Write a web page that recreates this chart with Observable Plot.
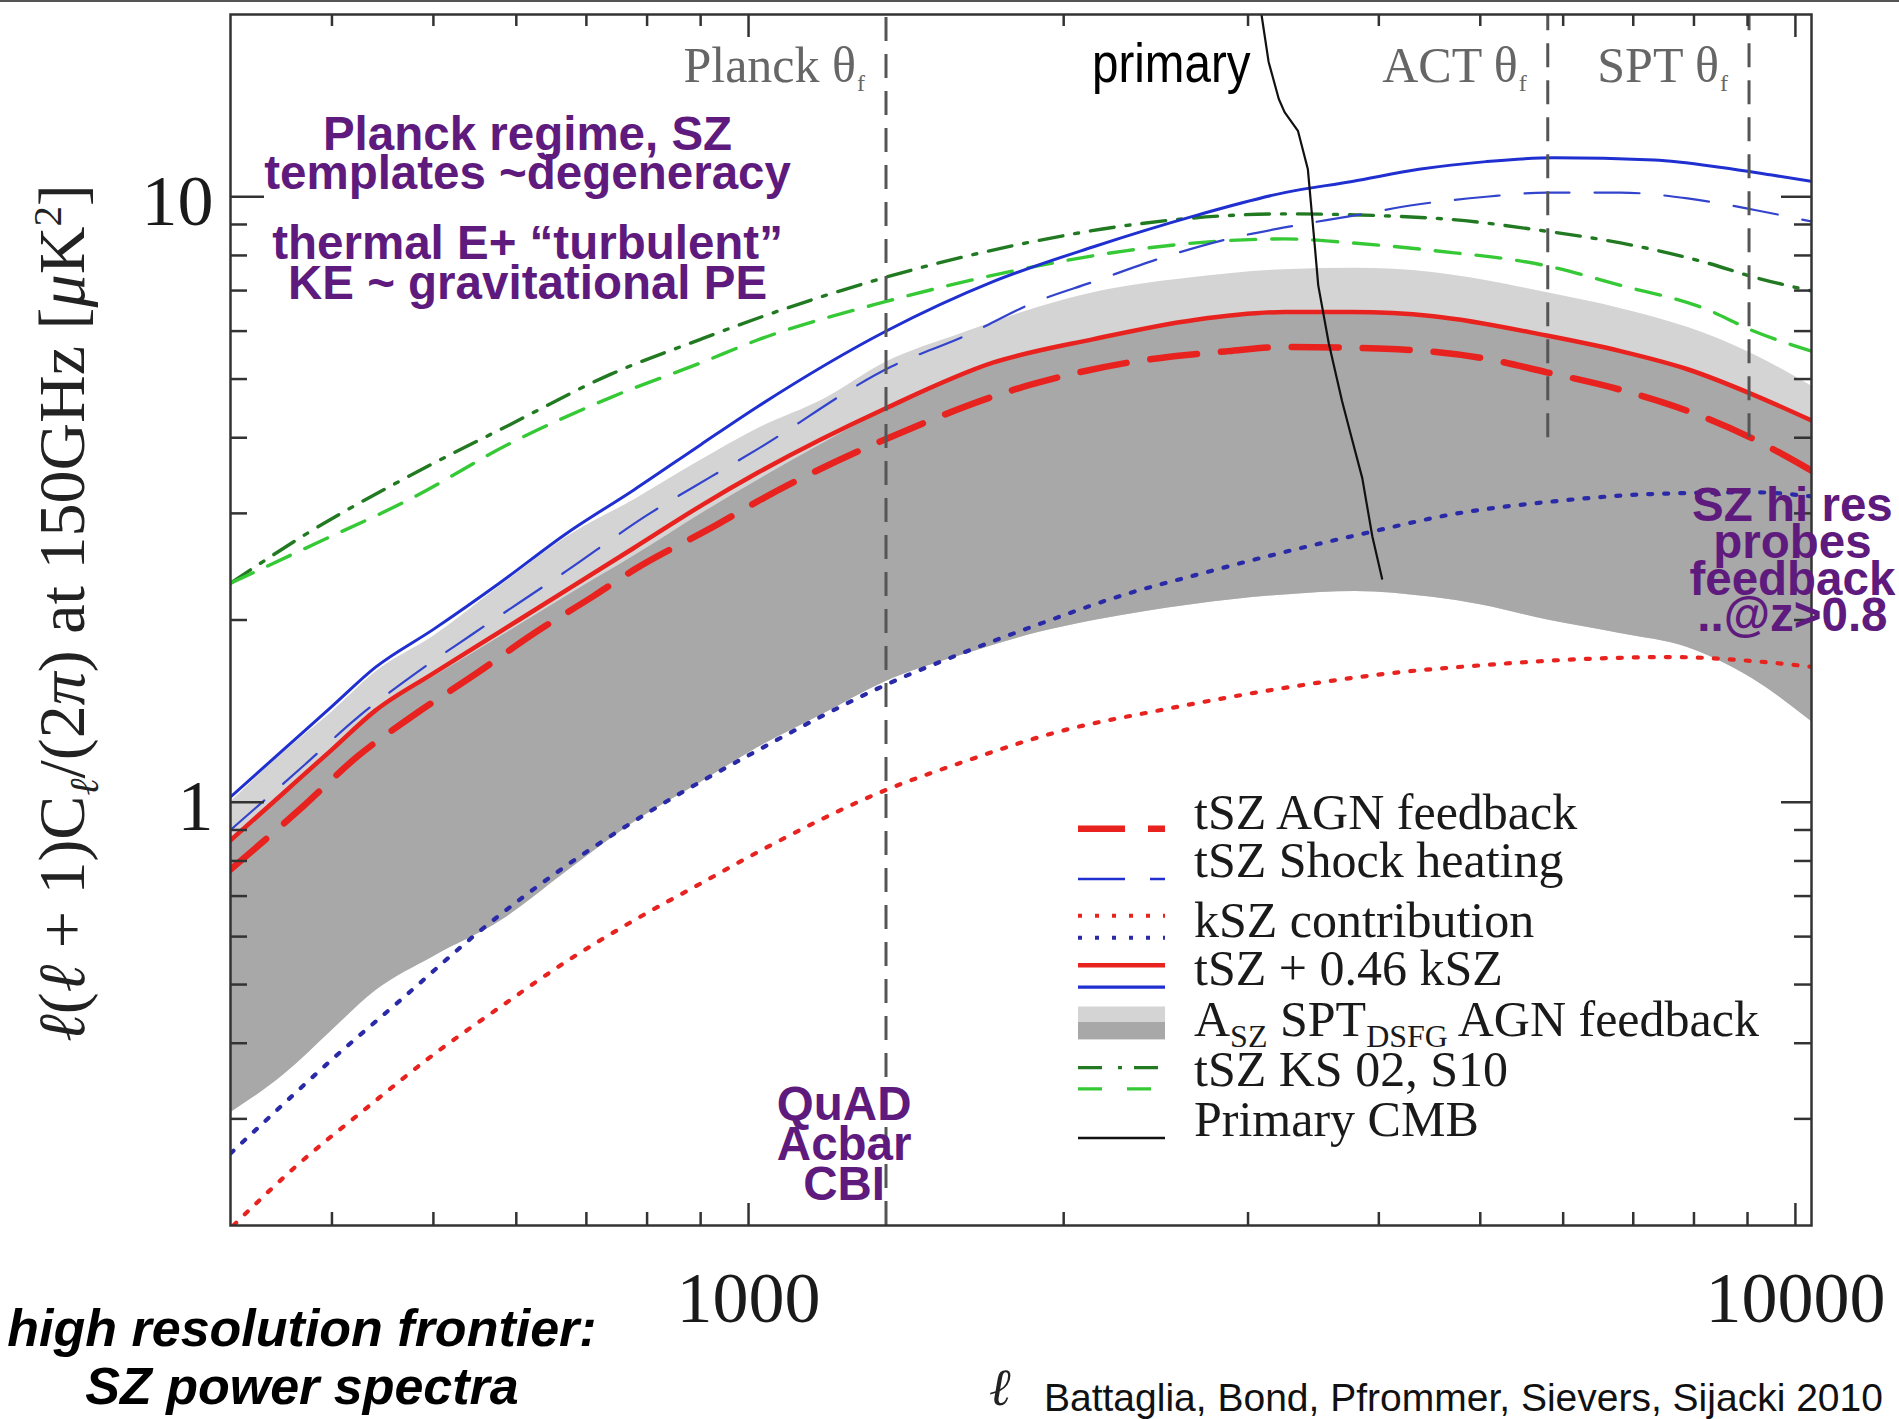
<!DOCTYPE html>
<html><head><meta charset="utf-8">
<script src="https://cdn.jsdelivr.net/npm/d3@7"></script>
<script src="https://cdn.jsdelivr.net/npm/@observablehq/plot@0.6"></script>
<style>
html,body{margin:0;padding:0;background:#fff;}
body{width:1899px;height:1419px;position:relative;overflow:hidden;}
#topline{position:absolute;left:0;top:0;width:1899px;height:2px;background:#555;}
#chart{position:absolute;left:0;top:0;}
.abs{position:absolute;white-space:nowrap;}
sub,sup{line-height:0;font-size:0.62em;}
</style></head><body>
<div id="chart"></div>
<div id="topline"></div>
<div id="overlay"></div>
<script>
// ---------- data (ell, D_ell in muK^2) ----------
const ellTicksMajor = [1000, 10000];
const ellTicksMinor = [400,500,600,700,800,900,2000,3000,4000,5000,6000,7000,8000,9000];
const yTicksMajor = [1, 10];
const yTicksMinor = [0.3,0.4,0.5,0.6,0.7,0.8,0.9,2,3,4,5,6,7,8,9];

const bandEll      = [320,360,400,440,500,580,670,780,900,1020,1180,1350,1600,1900,2150,2650,3250,3800,4500,5000,5800,6800,7900,9100,10360];
const bandLightTop = [1.0,1.21,1.41,1.64,1.88,2.28,2.74,3.17,3.67,4.14,4.63,5.32,5.95,6.58,6.96,7.35,7.58,7.62,7.50,7.30,6.94,6.54,6.08,5.50,4.87];
const bandDarkTop  = [0.86,1.03,1.21,1.41,1.61,1.88,2.19,2.56,2.99,3.40,3.92,4.45,5.05,5.55,5.82,6.24,6.42,6.42,6.32,6.15,5.88,5.53,5.15,4.68,4.25];
const bandBottom   = [0.307,0.355,0.42,0.488,0.556,0.637,0.768,0.93,1.078,1.23,1.40,1.58,1.75,1.91,2.0,2.12,2.2,2.23,2.18,2.12,2.0,1.9,1.8,1.6,1.36];

const shockTotal = [[320,1.02],[360,1.224],[400,1.44],[440,1.67],[500,1.93],[578,2.30],[670,2.78],[777,3.28],[901,3.90],[1020,4.50],[1351,5.99],[1712,7.24],[2136,8.27],[2667,9.30],[3251,10.16],[3772,10.6],[4369,11.1],[5065,11.43],[5872,11.6],[7328,11.5],[8500,11.18],[9495,10.86],[10360,10.6]];
const shockTsz = [[320,0.90],[376,1.15],[423,1.38],[480,1.63],[546,1.90],[670,2.41],[800,2.98],[921,3.45],[1020,3.83],[1371,5.25],[1613,5.90],[1870,6.68],[2136,7.24],[2477,7.92],[2872,8.52],[3251,8.90],[3772,9.30],[4369,9.72],[5065,10.0],[5786,10.16],[6807,10.16],[7888,9.94],[9145,9.51],[10360,9.1]];
const agnTotal = [[320,0.865],[360,1.038],[400,1.222],[440,1.417],[499,1.63],[578,1.91],[670,2.24],[777,2.63],[901,3.09],[1020,3.50],[1351,4.47],[1712,5.32],[2136,5.82],[2667,6.26],[3251,6.45],[3772,6.45],[4510,6.35],[5786,5.90],[6807,5.56],[7888,5.19],[9145,4.70],[10360,4.27]];
const agnTsz = [[320,0.774],[376,0.987],[423,1.19],[481,1.40],[549,1.63],[625,1.905],[711,2.19],[777,2.42],[935,2.88],[1020,3.14],[1371,4.02],[1842,4.87],[2300,5.32],[2872,5.56],[3251,5.65],[4058,5.61],[5065,5.40],[5786,5.13],[6807,4.80],[7888,4.43],[9145,3.97],[10360,3.53]];
const ks02 = [[320,2.30],[380,2.79],[470,3.43],[591,4.20],[738,5.09],[901,5.82],[1020,6.3],[1351,7.36],[1842,8.39],[2300,8.97],[3251,9.37],[4058,9.30],[4703,9.17],[5786,8.77],[6807,8.39],[8185,7.80],[9145,7.36],[10360,6.99]];
const s10 = [[320,2.30],[385,2.67],[477,3.18],[591,3.91],[738,4.66],[901,5.32],[1020,5.8],[1351,6.71],[1842,7.62],[2300,8.15],[3251,8.52],[3772,8.39],[4510,8.15],[5786,7.69],[6807,7.14],[8185,6.54],[9145,5.99],[10360,5.56]];
const shockKsz = [[320,0.263],[345,0.297],[400,0.376],[463,0.468],[557,0.618],[670,0.786],[806,0.967],[1020,1.218],[1182,1.395],[1351,1.562],[1590,1.756],[1912,1.98],[2300,2.21],[2667,2.37],[3251,2.59],[3910,2.79],[4703,2.99],[5872,3.14],[7328,3.23],[9145,3.25],[10360,3.20]];
const agnKsz = [[322,0.2],[371,0.252],[430,0.311],[500,0.383],[578,0.458],[670,0.546],[777,0.638],[901,0.735],[1020,0.827],[1351,1.047],[1590,1.16],[1984,1.31],[2477,1.42],[3251,1.545],[4058,1.63],[5065,1.686],[6322,1.725],[7606,1.737],[9145,1.71],[10360,1.674]];
const primaryCMB = [[3090,20],[3139,16.7],[3210,14.5],[3251,13.8],[3348,12.85],[3422,11.1],[3475,8.27],[3501,7.14],[3583,5.73],[3689,4.6],[3772,3.97],[3857,3.43],[3943,2.75],[4029,2.34]];

const detectorLines = [{name:"Planck θ", ell:1353, bottom:0.2},{name:"ACT θ", ell:5800, bottom:4.0},{name:"SPT θ", ell:9030, bottom:4.0}];
const detectorLabelValue = 15.45;
const primaryLabel = [{text:"primary", ell:3017, value:15.45}];
const annotations = [
  {text:"Planck regime, SZ\ntemplates ~degeneracy", ell:615, value:10.3, lh:0.815},
  {text:"thermal E+ \u201cturbulent\u201d\nKE ~ gravitational PE", ell:615, value:6.79, lh:0.836},
  {text:"SZ hi res\nprobes\nfeedback\n..@z>0.8", ell:9934, value:1.915, lh:0.777},
  {text:"QuAD\nAcbar\nCBI", ell:1234, value:0.2207, lh:0.843}
];
const legendLabels = ["tSZ AGN feedback","tSZ Shock heating","kSZ contribution","tSZ + 0.46 kSZ","A|SZ| SPT|DSFG| AGN feedback","tSZ KS 02, S10","Primary CMB"];

// ---------- styling ----------
const RED="#e8231f", BLUE="#1f2fd0", BLUE_D="#3344cc", BLUE_DOT="#2a2aa8", GREEN_D="#217a21", GREEN_L="#36c936", PURPLE="#5e1a7d";
const W=1899, H=1419, mL=230, mR=88, mT=14, mB=194;
const frameW=W-mL-mR, frameH=H-mT-mB;
const pts = a => a.map(([ell,v]) => ({ell, v}));
const band = bandEll.map((ell,i) => ({ell, lightTop:bandLightTop[i], darkTop:bandDarkTop[i], bottom:bandBottom[i]}));
const L = (stroke, strokeWidth, dash, curve="monotone-x") => ({x:"ell", y:"v", stroke, strokeWidth, strokeDasharray:dash, curve, clip:true});
const tk = {stroke:"#333", strokeWidth:2.5};

const chart = Plot.plot({
  width:W, height:H, marginLeft:mL, marginRight:mR, marginTop:mT, marginBottom:mB,
  x:{type:"log", domain:[320,10360]},
  y:{type:"log", domain:[0.2,20]},
  style:{background:"transparent", fontFamily:"'Liberation Serif', serif", overflow:"visible"},
  marks:[
    Plot.areaY(band,{x:"ell", y1:"bottom", y2:"lightTop", fill:"#d4d4d4", curve:"monotone-x", clip:true}),
    Plot.areaY(band,{x:"ell", y1:"bottom", y2:"darkTop", fill:"#a8a8a8", curve:"monotone-x", clip:true}),
    Plot.line(pts(ks02), L(GREEN_D,3.4,"24,12,4,12")),
    Plot.line(pts(s10), L(GREEN_L,3.4,"25,16")),
    Plot.line(pts(shockTsz), L(BLUE_D,2.2,"45,25")),
    Plot.line(pts(shockTotal), L(BLUE,3)),
    Plot.line(pts(agnTotal), L(RED,4.5)),
    Plot.line(pts(agnTsz), L(RED,6.5,"47,24")),
    Plot.line(pts(shockKsz), L(BLUE_DOT,4.2,"4,12")),
    Plot.line(pts(agnKsz), L(RED,4.2,"4,12")),
    Plot.line(pts(primaryCMB), L("#111",2.2,null,"linear")),
    Plot.ruleX(detectorLines,{x:"ell", y1:"bottom", y2:()=>20, stroke:"#555", strokeWidth:3, strokeDasharray:"24,13"}),
    Plot.tickX(ellTicksMinor,{x:d=>d, insetTop:frameH-13, ...tk}),
    Plot.tickX(ellTicksMajor,{x:d=>d, insetTop:frameH-22, ...tk}),
    Plot.tickX(ellTicksMinor,{x:d=>d, insetBottom:frameH-12, ...tk}),
    Plot.tickX(ellTicksMajor,{x:d=>d, insetBottom:frameH-23, ...tk}),
    Plot.tickY(yTicksMinor,{y:d=>d, insetRight:frameW-17, ...tk}),
    Plot.tickY(yTicksMajor,{y:d=>d, insetRight:frameW-34, ...tk}),
    Plot.tickY(yTicksMinor,{y:d=>d, insetLeft:frameW-17, ...tk}),
    Plot.tickY(yTicksMajor,{y:d=>d, insetLeft:frameW-30, ...tk}),
    Plot.frame({stroke:"#333", strokeWidth:2.5}),
    Plot.axisX({anchor:"bottom", ticks:ellTicksMajor, tickSize:0, tickPadding:45, tickFormat:d=>String(d), fontSize:72, fontFamily:"'Liberation Serif', serif", label:null, color:"#1a1a1a"}),
    Plot.axisY({anchor:"left", ticks:yTicksMajor, tickSize:0, tickPadding:17, tickFormat:d=>String(d), fontSize:72, fontFamily:"'Liberation Serif', serif", label:null, dy:5, color:"#1a1a1a"}),
    Plot.text(detectorLines,{x:"ell", y:()=>detectorLabelValue, text:"name", textAnchor:"end", lineAnchor:"bottom", dx:-30, fontSize:50, fontFamily:"'Liberation Serif', serif", fill:"#666"}),
    Plot.text(detectorLines,{x:"ell", y:()=>detectorLabelValue, text:()=>"f", textAnchor:"start", lineAnchor:"bottom", dx:-29, dy:9, fontSize:24, fontFamily:"'Liberation Serif', serif", fill:"#666"}),
    Plot.text(primaryLabel,{x:"ell", y:"value", text:"text", textAnchor:"end", lineAnchor:"bottom", fontSize:56, fontFamily:"'Liberation Sans', Arial, sans-serif", fill:"#000"}),
    ...annotations.map(a => Plot.text([a],{x:"ell", y:"value", text:"text", textAnchor:"middle", lineAnchor:"bottom", lineHeight:a.lh, fontSize:47.5, fontWeight:"bold", fontFamily:"'Liberation Sans', Arial, sans-serif", fill:PURPLE}))
  ]
});
document.getElementById("chart").appendChild(chart);
// the "primary" label is set in a narrow face in the original: compress it horizontally about its anchor
chart.querySelectorAll("text").forEach(t => {
  if (t.textContent !== primaryLabel[0].text) return;
  const tr = t.getAttribute("transform");
  if (tr) t.setAttribute("transform", tr + " scale(0.85,1)");
  else {
    const x = +(t.getAttribute("x") || 0), y = +(t.getAttribute("y") || 0);
    t.removeAttribute("x"); t.removeAttribute("y");
    t.setAttribute("transform", `translate(${x},${y}) scale(0.85,1)`);
  }
});

// ---------- overlays: axis title, captions, legend ----------
const ov = document.getElementById("overlay");
ov.innerHTML = `
<div class="abs" style="left:62px;top:613px;transform:translate(-50%,-50%) rotate(-90deg);font:66px/1 'Liberation Serif',serif;color:#222;"><i>ℓ</i>(<i>ℓ</i> + 1)C<sub><i>ℓ</i></sub>/(2<i>π</i>) at 150GHz [<i>μ</i>K<sup>2</sup>]</div>
<div class="abs" style="left:0;width:604px;top:1299px;text-align:center;font:italic bold 52px/58px 'Liberation Sans',Arial,sans-serif;color:#000;">high resolution frontier:<br>SZ power spectra</div>
<div class="abs" style="left:989px;top:1362px;font:italic 52px/1 'Liberation Serif',serif;color:#222;">ℓ</div>
<div class="abs" style="left:1044px;top:1378px;font:39px/1 'Liberation Sans',Arial,sans-serif;color:#111;">Battaglia, Bond, Pfrommer, Sievers, Sijacki 2010</div>
`;
const rowY = [49,97,157,205,255.5,306,356];
const labelSvg = (s, y) => {
  if (!s.includes("|")) return `<text x="124" y="${y}">${s}</text>`;
  const parts = s.split("|");
  let out = `<text x="124" y="${y}">`;
  parts.forEach((p,i) => {
    if (i % 2 === 1) out += `<tspan font-size="32" dy="11">${p}</tspan>`;
    else out += `<tspan${i>0?' dy="-11"':''}>${p}</tspan>`;
  });
  return out + `</text>`;
};
const ln = (y, stroke, w, dash, x2=95) => `<line x1="8" x2="${x2}" y1="${y}" y2="${y}" stroke="${stroke}" stroke-width="${w}"${dash?` stroke-dasharray="${dash}"`:''}/>`;
const legend = `<svg class="abs" width="600" height="400" style="left:1070px;top:780px;overflow:visible" font-family="'Liberation Serif', serif" font-size="50" fill="#1a1a1a">
${ln(48.7, RED, 6.5, "47,23")}
${ln(99, BLUE, 2.5, "47,25")}
${ln(135.7, RED, 4, "4,13")}
${ln(157.7, BLUE_DOT, 4, "4,13")}
${ln(185.2, RED, 4.5)}
${ln(207.2, BLUE, 3.2)}
<rect x="8" y="226.5" width="87" height="15.5" fill="#d4d4d4"/>
<rect x="8" y="242" width="87" height="17.4" fill="#a8a8a8"/>
${ln(287.6, GREEN_D, 3.4, "24,16,4,12", 88)}
${ln(308.9, GREEN_L, 3.4, "24,25", 88)}
${ln(358, "#111", 2.5)}
${legendLabels.map((s,i) => labelSvg(s, rowY[i])).join("\n")}
</svg>`;
ov.insertAdjacentHTML("beforeend", legend);
</script>
</body></html>
